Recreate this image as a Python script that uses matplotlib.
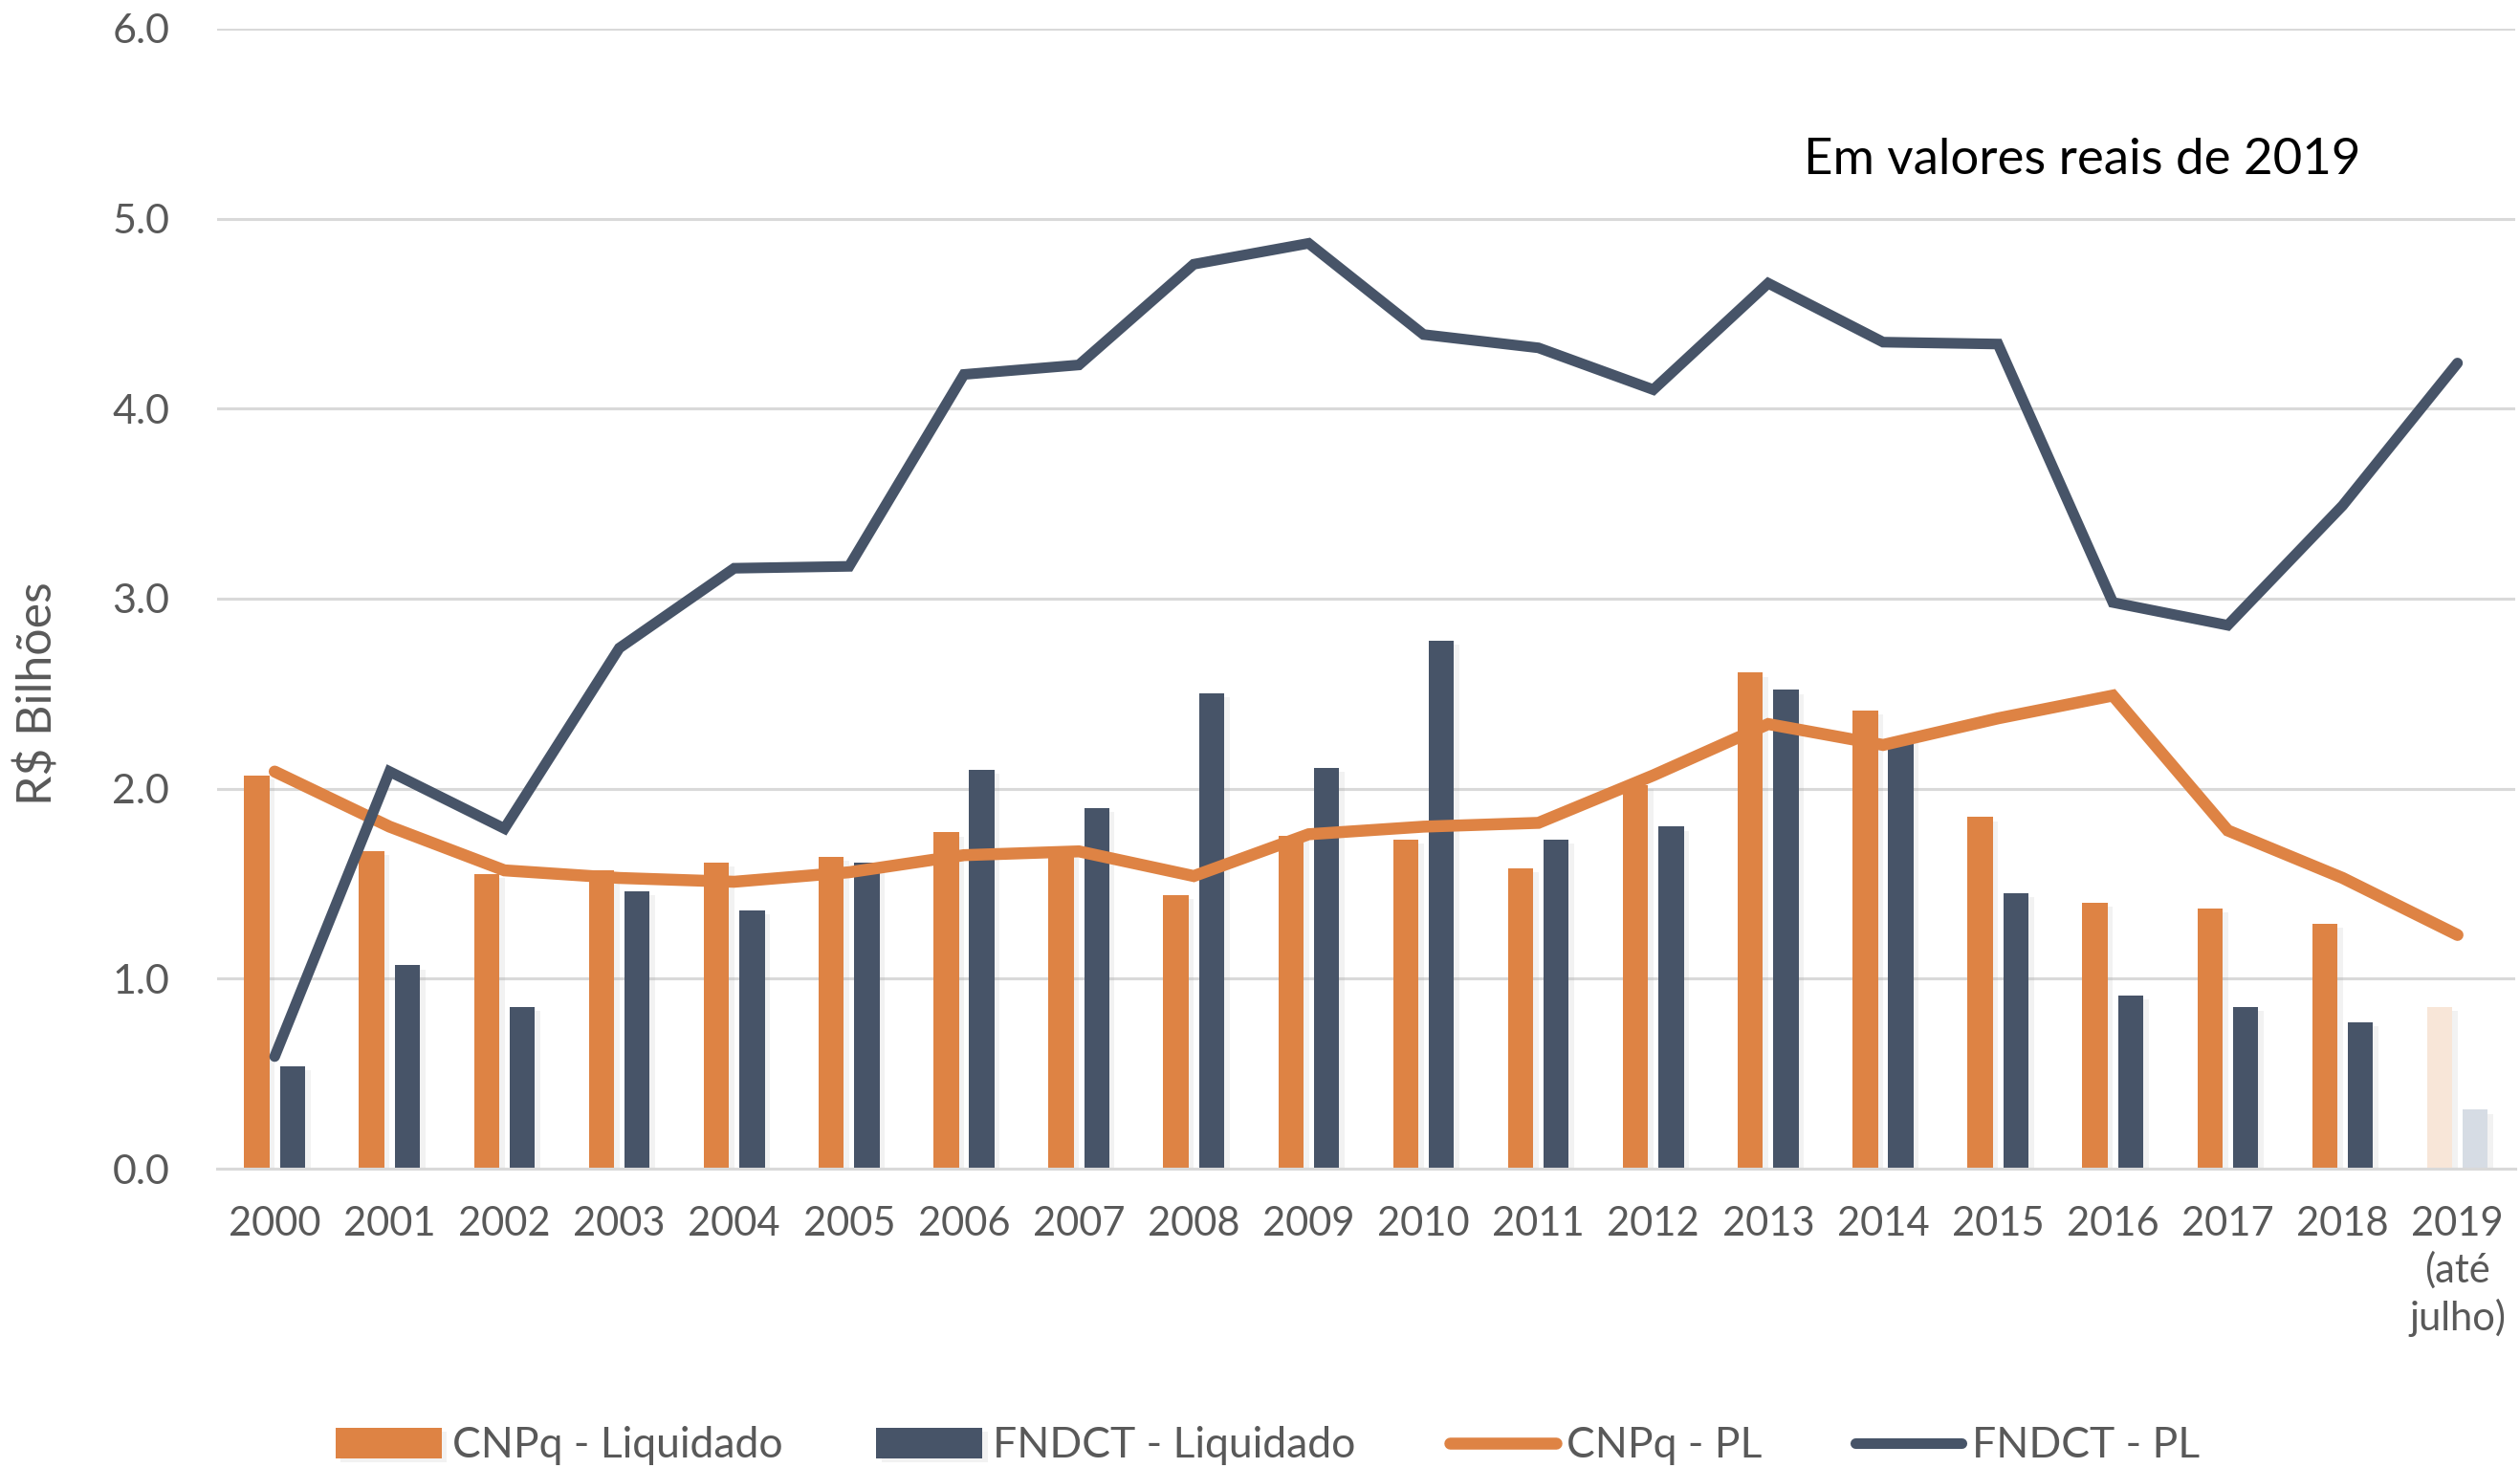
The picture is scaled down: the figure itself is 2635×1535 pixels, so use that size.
import matplotlib.pyplot as plt
import matplotlib.patheffects as pe
import numpy as np

plt.rcParams['font.family'] = ['Lato', 'DejaVu Sans']

years = ['2000', '2001', '2002', '2003', '2004', '2005', '2006', '2007', '2008', '2009',
         '2010', '2011', '2012', '2013', '2014', '2015', '2016', '2017', '2018', '2019\n(até\njulho)']
cnpq_liq = [2.07, 1.67, 1.55, 1.57, 1.61, 1.64, 1.77, 1.67, 1.44, 1.75,
            1.73, 1.58, 2.02, 2.61, 2.41, 1.85, 1.40, 1.37, 1.29, 0.85]
fndct_liq = [0.54, 1.07, 0.85, 1.46, 1.36, 1.61, 2.10, 1.90, 2.50, 2.11,
             2.78, 1.73, 1.80, 2.52, 2.26, 1.45, 0.91, 0.85, 0.77, 0.31]
cnpq_pl = [2.09, 1.80, 1.57, 1.53, 1.51, 1.56, 1.65, 1.67, 1.54, 1.76,
           1.80, 1.82, 2.07, 2.34, 2.23, 2.37, 2.49, 1.78, 1.53, 1.23]
fndct_pl = [0.59, 2.09, 1.79, 2.74, 3.16, 3.17, 4.18, 4.23, 4.76, 4.87,
            4.39, 4.32, 4.10, 4.66, 4.35, 4.34, 2.98, 2.86, 3.49, 4.24]

orange = '#DE8344'
navy = '#475468'
orange_light = '#F8E6D8'
navy_light = '#D6DCE4'
grey_txt = '#595959'

fig = plt.figure(figsize=(26.35, 15.35), dpi=100)
ax = fig.add_axes([0.0862, 0.2039, 0.9118, 0.7766])

x = np.arange(len(years))
w = 0.22
shadow = [pe.SimplePatchShadow(offset=(4, -3), alpha=0.12, shadow_rgbFace='#999999'), pe.Normal()]

c1 = [orange] * (len(years) - 1) + [orange_light]
c2 = [navy] * (len(years) - 1) + [navy_light]
b1 = ax.bar(x - 0.155, cnpq_liq, w, color=c1, zorder=2, label='CNPq - Liquidado')
b2 = ax.bar(x + 0.155, fndct_liq, w, color=c2, zorder=2, label='FNDCT - Liquidado')
for b in list(b1) + list(b2):
    b.set_path_effects(shadow)

l1, = ax.plot(x, cnpq_pl, color=orange, lw=9, solid_capstyle='round',
              solid_joinstyle='miter', zorder=3, label='CNPq - PL')
l2, = ax.plot(x, fndct_pl, color=navy, lw=8, solid_capstyle='round',
              solid_joinstyle='miter', zorder=4, label='FNDCT - PL')

ax.set_xlim(-0.5, len(years) - 0.5)
ax.set_ylim(0, 6)
ax.set_yticks(np.arange(0, 6.1, 1))
ax.set_yticklabels([f'{v:.1f}' for v in np.arange(0, 6.1, 1)])
ax.set_xticks(x)
ax.set_xticklabels(years, linespacing=1.3)
ax.yaxis.grid(True, color='#D9D9D9', lw=2.2, zorder=0)
ax.set_axisbelow(True)
for s in ['top', 'right', 'left']:
    ax.spines[s].set_visible(False)
ax.spines['bottom'].set_color('#D9D9D9')
ax.spines['bottom'].set_linewidth(2.2)
ax.tick_params(axis='both', length=0, labelcolor=grey_txt)
ax.tick_params(axis='y', pad=36, labelsize=31)
ax.tick_params(axis='x', pad=28, labelsize=30)

ax.set_ylabel('R$ Bilhões', fontsize=36, color=grey_txt)
ax.yaxis.set_label_coords(-0.068, 0.417)

ax.text(0.8116, 0.885, 'Em valores reais de 2019', transform=ax.transAxes,
        fontsize=38, color='black', ha='center', va='center')

fig.legend(handles=[b1, b2, l1, l2], loc='center', bbox_to_anchor=(0.503, 0.015),
           ncol=4, frameon=False, fontsize=32, labelcolor=grey_txt,
           handlelength=2.5, handleheight=0.75, columnspacing=2.2, handletextpad=0.25)

fig.savefig('out.png', dpi=100)
